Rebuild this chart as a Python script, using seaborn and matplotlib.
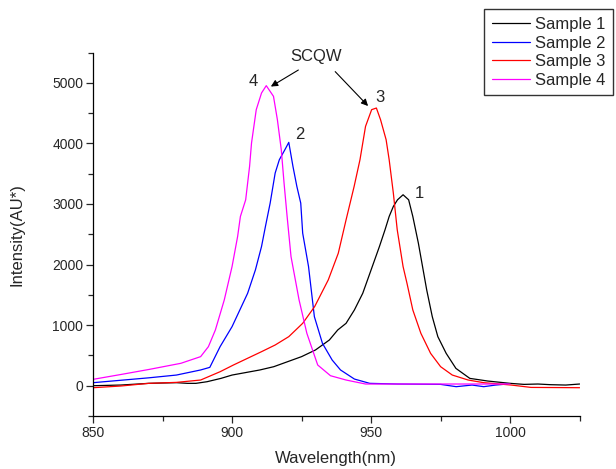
import pandas as pd
import seaborn as sns
import matplotlib.pyplot as plt
from matplotlib.ticker import MultipleLocator

# sample 1 (black)
s1_x = [850, 860, 870, 880, 884, 887, 891, 896, 900, 910, 915, 920, 925, 930, 935, 938, 941, 944,
        947, 950, 953, 955, 956.5, 958, 959.5, 961.5, 963.5, 965, 967, 968.5, 970, 972, 974, 977,
        980.5, 985.5, 992, 1000, 1005, 1010, 1014.5, 1020, 1025]
s1_y = [0, 11, 39, 50, 39, 39, 66, 121, 176, 260, 314, 397, 480, 590, 755, 920, 1030, 1251,
        1526, 1912, 2298, 2573, 2794, 2959, 3069, 3152, 3069, 2794, 2353, 1967, 1581, 1140, 810, 534,
        286, 121, 77, 39, 22, 28, 17, 11, 28]

# sample 2 (blue)
s2_x = [850, 870, 880, 888.7, 892, 895.7, 900, 905.6, 908.4, 910.6, 912, 913.7, 915.5, 917, 919,
        920.4, 921.9, 923.3, 924.7, 925.4, 927.5, 929.6, 932.5, 936, 939, 944, 949.5, 959.4, 975,
        980.6, 986.3, 990.5, 994.8, 999]
s2_y = [50, 130, 176, 260, 303, 645, 975, 1526, 1912, 2298, 2628, 3014, 3510, 3730, 3896,
        4017, 3620, 3290, 3014, 2518, 1967, 1140, 700, 424, 260, 110, 39, 28, 22,
        -16, 11, -16, 11, 28]

# sample 3 (red)
s3_x = [850, 860, 870, 880, 888.7, 895.7, 900.5, 910.6, 915.5, 920.4, 925.4, 929.7, 934.6, 938.2,
        941, 943.9, 946, 948, 950.2, 951.9, 953.4, 955.4, 956.5, 958, 959.4, 961.5, 962.9, 965,
        967.9, 971.4, 975, 979.2, 984.9, 990.5, 1000.4, 1007.5, 1025]
s3_y = [-33, -5, 39, 55, 94, 231, 342, 562, 672, 810, 1030, 1306, 1747, 2187,
        2738, 3290, 3730, 4281, 4557, 4584, 4391, 4061, 3730, 3179, 2573, 1967, 1692, 1251,
        865, 534, 314, 176, 94, 50, 11, -28, -33]

# sample 4 (magenta)
s4_x = [850, 860, 870.3, 881.6, 888.7, 891.5, 894, 897.2, 900, 902, 903, 904.9, 906.3, 907, 908.7,
        910.6, 912.3, 914.9, 916.3, 917.7, 918.7, 919.8, 921.2, 924.1, 926.9, 930.8, 935.4, 941,
        948, 960, 980, 1000]
s4_y = [105, 185, 270, 370, 480, 645, 920, 1416, 1967, 2463, 2794, 3069, 3620, 4006, 4557,
        4832, 4953, 4777, 4391, 3896, 3345, 2794, 2132, 1416, 865, 342, 165, 94,
        28, 28, 28, 28]

names = ['Sample 1', 'Sample 2', 'Sample 3', 'Sample 4']
colors = ['black', 'blue', 'red', 'magenta']

df = pd.concat([
    pd.DataFrame({'x': s1_x, 'y': s1_y, 'sample': names[0]}),
    pd.DataFrame({'x': s2_x, 'y': s2_y, 'sample': names[1]}),
    pd.DataFrame({'x': s3_x, 'y': s3_y, 'sample': names[2]}),
    pd.DataFrame({'x': s4_x, 'y': s4_y, 'sample': names[3]}),
])

sns.set_style('ticks')
plt.rcParams['font.family'] = ['Liberation Sans', 'DejaVu Sans']

fig = plt.figure(figsize=(6.16, 4.69), dpi=100)
ax = fig.add_axes([0.151, 0.113, 0.790, 0.775])

sns.lineplot(data=df, x='x', y='y', hue='sample', palette=dict(zip(names, colors)),
             sort=False, estimator=None, linewidth=0.9, ax=ax)

ax.set_xlim(850, 1025)
ax.set_ylim(-500, 5500)
ax.xaxis.set_major_locator(MultipleLocator(50))
ax.xaxis.set_minor_locator(MultipleLocator(25))
ax.yaxis.set_major_locator(MultipleLocator(1000))
ax.yaxis.set_minor_locator(MultipleLocator(500))
ax.tick_params(which='major', direction='out', length=5, width=0.9, labelsize=10, pad=2)
ax.tick_params(which='minor', direction='out', length=3.5, width=0.9)
for s in ['top', 'right']:
    ax.spines[s].set_visible(False)
for s in ['left', 'bottom']:
    ax.spines[s].set_linewidth(0.9)
    ax.spines[s].set_color('black')

ax.set_xlabel('Wavelength(nm)', fontsize=12, labelpad=8)
ax.set_ylabel('Intensity(AU*)', fontsize=12, labelpad=20)

# annotations
ax.text(930.4, 5427, 'SCQW', fontsize=12, ha='center', va='center')
ax.annotate('', xy=(913.1, 4915), xytext=(924.7, 5235),
            arrowprops=dict(arrowstyle='-|>', color='black', lw=0.8, mutation_scale=10))
ax.annotate('', xy=(949.6, 4584), xytext=(936.4, 5218),
            arrowprops=dict(arrowstyle='-|>', color='black', lw=0.8, mutation_scale=10))
for lbl, lx, ly in [('4', 907.8, 5014), ('2', 924.3, 4143), ('3', 953.3, 4760), ('1', 967.5, 3179)]:
    ax.text(lx, ly, lbl, fontsize=12, ha='center', va='center')

leg = ax.legend(loc='upper left', bbox_to_anchor=(0.7865, 0.98), bbox_transform=fig.transFigure,
                fontsize=12, frameon=True, fancybox=False, handlelength=2.3, handletextpad=0.3,
                borderpad=0.45, labelspacing=0.22, borderaxespad=0)
leg.get_frame().set_edgecolor('black')
leg.get_frame().set_linewidth(1.0)
leg.set_title(None)

fig.savefig('out.png', dpi=100)
